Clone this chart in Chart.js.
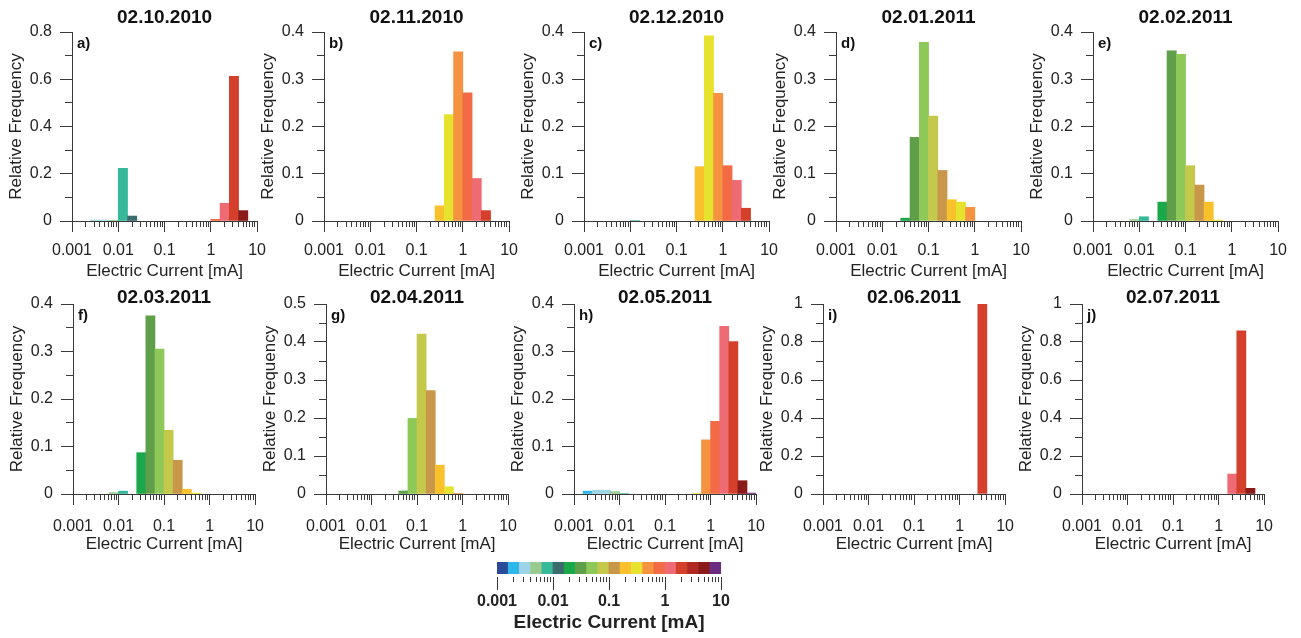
<!DOCTYPE html>
<html><head><meta charset="utf-8">
<script src="https://cdn.jsdelivr.net/npm/chart.js@4.4.1/dist/chart.umd.min.js"></script>
<style>
html,body{margin:0;padding:0;background:#fff;}
body{width:1301px;height:638px;position:relative;overflow:hidden;}
canvas{position:absolute;}
</style></head>
<body>
<script>
// ---------- data ----------
const xMajorTicks = [0.001, 0.01, 0.1, 1, 10];
const xTickLabels = ['0.001', '0.01', '0.1', '1', '10'];
const binsPerDecade = 5;           // 20 log-spaced bins from 0.001 to 10 mA
const binColors = ['#2b4c9b','#2db6e9','#9dd4e6','#9dd4e6','#98cb8d','#36b99a','#3b6b6c','#1ba84b','#5f9f49','#8dc858',
                   '#c4c94b','#c9974a','#f9c12c','#e7e22e','#f59341','#f26b45','#ee6b73','#d4402b','#8b1a1a','#6b2b82'];
const colorbarColors = ['#2b4c9b','#2db6e9','#9dd4e6','#98cb8d','#36b99a','#3b6b6c','#1ba84b','#5f9f49','#8dc858','#c4c94b',
                        '#c9974a','#f9c12c','#e7e22e','#f59341','#f26b45','#ee6b73','#d4402b','#b02a22','#8b1a1a','#6b2b82'];
const colorbarLevel = [1,1,1,1,1,1,1,1,1,1,1,1,1,1,1,1,1,1,1,1];

const panelTitles = ['02.10.2010','02.11.2010','02.12.2010','02.01.2011','02.02.2011',
                     '02.03.2011','02.04.2011','02.05.2011','02.06.2011','02.07.2011'];
const panelLetters = ['a)','b)','c)','d)','e)','f)','g)','h)','i)','j)'];
const yMax      = [0.8, 0.4, 0.4, 0.4, 0.4, 0.4, 0.5, 0.4, 1, 1];
const yLabelStep= [0.2, 0.1, 0.1, 0.1, 0.1, 0.1, 0.1, 0.1, 0.2, 0.2];

//                 0.001 ...                                  0.01 ...                                0.1 ...                                    1 ...
const freq_02_10_2010 = [0, 0, 0.004, 0.004, 0.003, 0.223, 0.021, 0, 0, 0,     0, 0, 0, 0, 0,             0.007, 0.075, 0.612, 0.044, 0];
const freq_02_11_2010 = [0, 0, 0, 0, 0,          0, 0, 0, 0, 0,                0, 0, 0.032, 0.225, 0.358, 0.271, 0.090, 0.022, 0, 0];
const freq_02_12_2010 = [0, 0, 0, 0, 0,          0.001, 0, 0, 0, 0,            0, 0, 0.115, 0.392, 0.270, 0.117, 0.086, 0.027, 0, 0];
const freq_02_01_2011 = [0, 0, 0, 0, 0,          0, 0, 0.006, 0.177, 0.378,    0.222, 0.107, 0.045, 0.040, 0.029, 0, 0, 0, 0, 0];
const freq_02_02_2011 = [0, 0, 0, 0, 0.003,      0.009, 0, 0.040, 0.360, 0.353, 0.117, 0.076, 0.040, 0.002, 0, 0, 0, 0, 0, 0];
const freq_02_03_2011 = [0, 0, 0, 0, 0.003,      0.006, 0, 0.087, 0.375, 0.305, 0.134, 0.071, 0.010, 0.002, 0, 0, 0, 0, 0, 0];
const freq_02_04_2011 = [0, 0, 0, 0, 0,          0, 0, 0, 0.008, 0.199,        0.421, 0.272, 0.076, 0.019, 0.001, 0, 0, 0, 0, 0];
const freq_02_05_2011 = [0, 0.006, 0.008, 0.008, 0.005, 0.001, 0, 0, 0, 0,     0, 0, 0, 0.001, 0.114, 0.153, 0.353, 0.321, 0.028, 0.002];
const freq_02_06_2011 = [0, 0, 0, 0, 0,          0, 0, 0, 0, 0,                0, 0, 0, 0, 0,             0, 0, 1.0, 0, 0];
const freq_02_07_2011 = [0, 0, 0, 0, 0,          0, 0, 0, 0, 0,                0, 0, 0, 0, 0,             0, 0.105, 0.859, 0.030, 0];
const panelValues = [freq_02_10_2010, freq_02_11_2010, freq_02_12_2010, freq_02_01_2011, freq_02_02_2011,
                     freq_02_03_2011, freq_02_04_2011, freq_02_05_2011, freq_02_06_2011, freq_02_07_2011];

// ---------- layout ----------
const FONT = "'Liberation Sans', Arial, Helvetica, sans-serif";
const AXIS = '#3a3a3a', TXT = '#222';
const plotW = 188.5, yAxisW = 66, xAxisH = 61, rightPad = 14.5;
const rows = [
  {top: 32, plotH: 189, titlePadTop: 8, titlePad: 8, labelPad: 9},
  {top: 304, plotH: 190, titlePadTop: 8, titlePad: 0, labelPad: 12}
];
const plotLefts = [72, 324, 584, 836, 1093, 73, 326, 574, 823, 1082];

const xTickValues = [];
xMajorTicks.forEach((d, i) => {
  if (i < xMajorTicks.length - 1) { for (let m = 1; m <= 9; m++) xTickValues.push(+(d * m).toPrecision(6)); }
  else xTickValues.push(d);
});
const isMajorX = v => xMajorTicks.some(t => Math.abs(v / t - 1) < 1e-9);
const xLabel = v => { const i = xMajorTicks.findIndex(t => Math.abs(v / t - 1) < 1e-9); return i >= 0 ? xTickLabels[i] : ''; };
const binCenter = k => Math.pow(10, Math.log10(xMajorTicks[0]) + (k + 0.5) / binsPerDecade);

const letterPlugin = {
  id: 'panelLetter',
  afterDraw(chart, args, opts) {
    if (!opts || !opts.text) return;
    const {ctx, chartArea} = chart;
    ctx.save();
    ctx.font = 'bold 15px ' + FONT;
    ctx.fillStyle = '#111';
    ctx.textBaseline = 'middle';
    ctx.textAlign = 'left';
    ctx.fillText(opts.text, chartArea.left + 5, chartArea.top + 12);
    ctx.restore();
  }
};

function logXScale(opts) {
  return {
    type: 'logarithmic', min: xMajorTicks[0], max: xMajorTicks[xMajorTicks.length - 1],
    offset: false,
    afterBuildTicks: s => { s.ticks = xTickValues.map(v => ({value: v, major: isMajorX(v)})); },
    afterFit: s => { s.height = opts.height; },
    ticks: {autoSkip: false, maxRotation: 0, minRotation: 0, padding: opts.labelPad, color: TXT,
            font: {family: FONT, size: opts.tickSize, weight: opts.weight},
            callback: v => xLabel(v)},
    grid: {display: true, drawOnChartArea: false, drawTicks: true, offset: false, tickLength: opts.tickLength,
           tickColor: AXIS, tickWidth: 1,
           tickBorderDash: c => (c.tick && isMajorX(c.tick.value)) ? opts.majorDash : opts.minorDash},
    border: {display: opts.border, color: AXIS, width: 1},
    title: {display: true, text: 'Electric Current [mA]', color: TXT, padding: {top: 0, bottom: 0},
            font: {family: FONT, size: opts.titleSize, weight: opts.weight, lineHeight: 1.2}}
  };
}

function makePanel(i) {
  const row = rows[i < 5 ? 0 : 1];
  const titleH = row.titlePadTop + 12 + row.titlePad;
  const c = document.createElement('canvas');
  const cw = Math.ceil(yAxisW + plotW + rightPad);
  const ch = titleH + row.plotH + xAxisH;
  c.width = cw; c.height = ch;
  c.style.width = cw + 'px'; c.style.height = ch + 'px';
  c.style.left = (plotLefts[i] - yAxisW) + 'px';
  c.style.top = (row.top - titleH) + 'px';
  document.body.appendChild(c);
  const step = yLabelStep[i];
  const isLab = v => Math.abs(v / step - Math.round(v / step)) < 1e-6;
  new Chart(c, {
    type: 'bar',
    data: {datasets: [{
      data: panelValues[i].map((v, k) => ({x: binCenter(k), y: v === 0 ? null : v})),
      backgroundColor: binColors, borderWidth: 0, barPercentage: 1, categoryPercentage: 1, barThickness: 'flex'
    }]},
    options: {
      responsive: false, animation: false, devicePixelRatio: 1,
      layout: {padding: {left: 0, top: 0, bottom: 0, right: cw - yAxisW - plotW}},
      plugins: {
        legend: {display: false}, tooltip: {enabled: false},
        title: {display: true, text: panelTitles[i], fullSize: false, color: '#111', align: 'center',
                font: {family: FONT, size: 19, weight: 'bold', lineHeight: '12px'},
                padding: {top: row.titlePadTop, bottom: row.titlePad}},
        panelLetter: {text: panelLetters[i]}
      },
      scales: {
        x: logXScale({height: xAxisH, labelPad: row.labelPad, tickSize: 16, titleSize: 17, weight: 'normal',
                      tickLength: 11, majorDash: [], minorDash: [5, 60], border: true}),
        y: {
          type: 'linear', min: 0, max: yMax[i],
          afterFit: s => { s.width = yAxisW; },
          ticks: {stepSize: step / 2, autoSkip: false, padding: 8, color: TXT,
                  font: {family: FONT, size: 16},
                  callback: v => isLab(v) ? String(parseFloat(v.toFixed(3))) : ''},
          grid: {display: true, drawOnChartArea: false, drawTicks: true, tickLength: 12, tickColor: AXIS, tickWidth: 1,
                 tickBorderDash: ctx => (ctx.tick && isLab(ctx.tick.value)) ? [] : [0, 5, 60]},
          border: {display: true, color: AXIS, width: 1},
          title: {display: true, text: 'Relative Frequency', color: TXT, padding: {top: 0, bottom: 0},
                  font: {family: FONT, size: 17, lineHeight: 1.2}}
        }
      }
    },
    plugins: [letterPlugin]
  });
}
for (let i = 0; i < 10; i++) makePanel(i);

// ---------- colour bar ----------
(function () {
  const left = 497, right = 721, top = 562, bottom = 574, axisH = 60;
  const c = document.createElement('canvas');
  const cl = 456, ct = 552, cw = 306, ch = 84;
  c.width = cw; c.height = ch; c.style.width = cw + 'px'; c.style.height = ch + 'px';
  c.style.left = cl + 'px'; c.style.top = ct + 'px';
  document.body.appendChild(c);
  new Chart(c, {
    type: 'bar',
    data: {datasets: [{
      data: colorbarLevel.map((v, k) => ({x: binCenter(k), y: v})),
      backgroundColor: colorbarColors, borderWidth: 0, barPercentage: 1, categoryPercentage: 1, barThickness: 'flex'
    }]},
    options: {
      responsive: false, animation: false, devicePixelRatio: 1,
      layout: {padding: {left: left - cl, right: cl + cw - right, top: top - ct, bottom: ch - (bottom - ct) - axisH}},
      plugins: {legend: {display: false}, tooltip: {enabled: false}, title: {display: false}},
      scales: {
        x: logXScale({height: axisH, labelPad: 2, tickSize: 16, titleSize: 19, weight: 'bold',
                      tickLength: 16, majorDash: [0, 3, 13, 60], minorDash: [0, 3, 5, 60], border: false}),
        y: {type: 'linear', min: 0, max: 1, display: false}
      }
    }
  });
})();
</script>
</body></html>
